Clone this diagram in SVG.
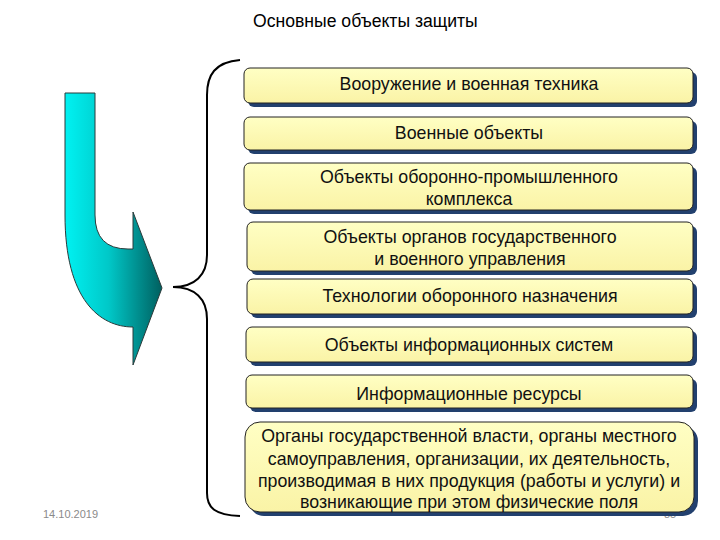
<svg xmlns="http://www.w3.org/2000/svg" width="720" height="540" viewBox="0 0 720 540">
<defs>
<linearGradient id="arrowGrad" x1="0" y1="0" x2="1" y2="0">
<stop offset="0" stop-color="#00f2f2"/>
<stop offset="0.45" stop-color="#00c8c8"/>
<stop offset="1" stop-color="#005f5f"/>
</linearGradient>
<linearGradient id="boxGrad" x1="0" y1="0" x2="0" y2="1">
<stop offset="0" stop-color="#ffffc4"/>
<stop offset="1" stop-color="#faf3a6"/>
</linearGradient>
</defs>
<style>
.shadow{fill:#22406e}
.box{fill:url(#boxGrad);stroke:#222;stroke-width:1}
.t{font-family:"Liberation Sans",Arial,sans-serif;font-size:17.8px;fill:#111;text-anchor:middle}
.title{font-family:"Liberation Sans",Arial,sans-serif;font-size:17.6px;fill:#000}
.foot{font-family:"Liberation Sans",Arial,sans-serif;font-size:11px;fill:#8a8a8a}
</style>
<rect width="720" height="540" fill="#fff"/>
<text class="title" x="253" y="27">Основные объекты защиты</text>
<text class="foot" x="664" y="518">85</text>
<text class="foot" x="43" y="518">14.10.2019</text>

<g id="arrow">
<path d="M65,93 L95,93 L95,215 Q95,249 128,249 L133,249 L133,212 L162,288 L133,365 L133,327 C100,327 65,300 65,215 Z" fill="url(#arrowGrad)" stroke="#2a3a3a" stroke-width="1"/>
</g>

<g id="connectors">
<path d="M240,60 C215,62 207,75 207,95 L207,255 C207,275 195,287 173,287 C195,287 207,299 207,319 L207,493 C207,508 215,515 240,516" fill="none" stroke="#000" stroke-width="2"/>
</g>

<g id="n1">
<rect class="shadow" x="248" y="72" width="449" height="35" rx="6"/>
<rect class="box" x="244" y="68" width="449" height="35" rx="6"/>
<text class="t" x="469" y="90">Вооружение и военная техника</text>
</g>
<g id="n2">
<rect class="shadow" x="248" y="121" width="449" height="33" rx="6"/>
<rect class="box" x="244" y="117" width="449" height="33" rx="6"/>
<text class="t" x="469" y="139">Военные объекты</text>
</g>
<g id="n3">
<rect class="shadow" x="248" y="167" width="449" height="47" rx="6"/>
<rect class="box" x="244" y="163" width="449" height="47" rx="6"/>
<text class="t" x="469" y="183">Объекты оборонно-промышленного</text>
<text class="t" x="469" y="205">комплекса</text>
</g>
<g id="n4">
<rect class="shadow" x="251" y="226" width="446" height="49" rx="6"/>
<rect class="box" x="247" y="222" width="446" height="49" rx="6"/>
<text class="t" x="470" y="243">Объекты органов государственного</text>
<text class="t" x="470" y="265">и военного управления</text>
</g>
<g id="n5">
<rect class="shadow" x="251" y="283" width="446" height="35" rx="6"/>
<rect class="box" x="247" y="279" width="446" height="35" rx="6"/>
<text class="t" x="470" y="302">Технологии оборонного назначения</text>
</g>
<g id="n6">
<rect class="shadow" x="250" y="331" width="447" height="35" rx="6"/>
<rect class="box" x="246" y="327" width="447" height="35" rx="6"/>
<text class="t" x="469" y="351">Объекты информационных систем</text>
</g>
<g id="n7">
<rect class="shadow" x="250" y="379" width="447" height="33" rx="6"/>
<rect class="box" x="246" y="375" width="447" height="33" rx="6"/>
<text class="t" x="469" y="400">Информационные ресурсы</text>
</g>
<g id="n8">
<rect class="shadow" x="249" y="426" width="449" height="90" rx="15"/>
<rect class="box" x="245" y="422" width="449" height="90" rx="15"/>
<text class="t" x="469" y="442">Органы государственной власти, органы местного</text>
<text class="t" x="469" y="465">самоуправления, организации, их деятельность,</text>
<text class="t" x="469" y="487">производимая в них продукция (работы и услуги) и</text>
<text class="t" x="469" y="508">возникающие при этом физические поля</text>
</g>
</svg>
